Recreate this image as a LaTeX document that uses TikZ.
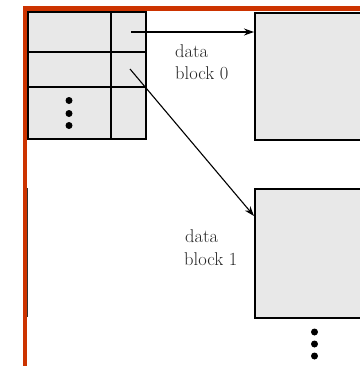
\documentclass[tikz,border=0pt]{standalone}
\usetikzlibrary{arrows.meta}
\definecolor{frame}{RGB}{204,51,0}
\definecolor{cellgray}{RGB}{232,232,232}
\begin{document}
\begin{tikzpicture}[x=1bp,y=-1bp,
  redline/.style={draw=frame,line width=4.5bp},
  cell/.style={draw=black,line width=1.5bp},
  blockbox/.style={draw=black,fill=cellgray,line width=1.6bp,rectangle,inner sep=0pt,anchor=north west,minimum width=130bp},
  lbl/.style={font=\fontsize{18.5bp}{22bp}\selectfont,align=left,anchor=base west,inner sep=0pt,text=black!85},
  ptr/.style={draw=black,line width=1.1bp,-{Stealth[length=10bp,width=7bp]}},
  dotm/.style={fill=black,circle,inner sep=0pt,minimum size=7bp}]
\useasboundingbox (0,0) rectangle (360,366);
% red frame
\draw[redline] (25,366) -- (25,8.5) -- (360,8.5);
\draw[line width=1.3bp,black!80] (27.8,188) -- (27.8,317);
% index table
\filldraw[cell,fill=cellgray] (28,12) rectangle (146,139);
\draw[cell] (111,12) -- (111,139);
\draw[cell,line width=1.8bp] (28,52) -- (146,52);
\draw[cell] (28,87) -- (146,87);
\node[dotm] (d1) at (69,100.5) {};
\node[dotm] (d2) at (69,113.5) {};
\node[dotm] (d3) at (69,125.5) {};
\coordinate (p0) at (131,32);
\coordinate (p1) at (130,69);
% data blocks
\node[blockbox,minimum height=127bp] (b0) at (254,12) {};
\node[blockbox,minimum height=129bp] (b1) at (254,188) {};
\coordinate (t1) at (254,216);
\draw[ptr] (p0) -- (p0 -| b0.west);
\draw[ptr] (p1) -- (t1);
% labels
\node[lbl] (l0a) at (175,57) {data};
\node[lbl] (l0b) at (175,79) {block 0};
\node[lbl] (l1a) at (185,242) {data};
\node[lbl] (l1b) at (184,265) {block 1};
% dots below
\node[dotm] (e1) at (314.5,332) {};
\node[dotm] (e2) at (314.5,344) {};
\node[dotm] (e3) at (314.5,356) {};
\end{tikzpicture}
\end{document}
